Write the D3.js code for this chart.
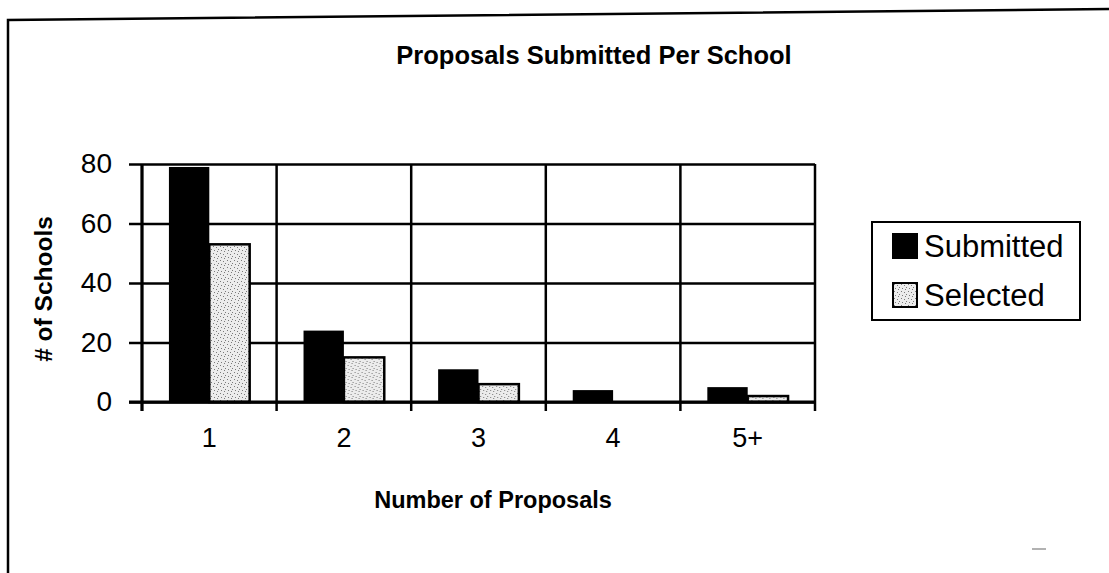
<!DOCTYPE html>
<html><head><meta charset="utf-8">
<script src="https://cdn.jsdelivr.net/npm/d3@7/dist/d3.min.js"></script>
<style>
html,body{margin:0;padding:0;background:#fff;}
svg{display:block;font-family:"Liberation Sans",Arial,sans-serif;}
</style></head>
<body><svg id="c" width="1109" height="573"></svg>
<script>
const categories = ["1","2","3","4","5+"];
const seriesNames = ["Submitted","Selected"];
const submitted = [79, 24, 11, 4, 5];
const selected = [53, 15, 6, 0, 2];
const yTicks = [0,20,40,60,80];
const title = "Proposals Submitted Per School";
const xTitle = "Number of Proposals";
const yTitle = "# of Schools";

const svg = d3.select("#c");
const defs = svg.append("defs");
const pat = defs.append("pattern").attr("id","stip").attr("patternUnits","userSpaceOnUse").attr("width",7).attr("height",7);
pat.append("rect").attr("width",7).attr("height",7).attr("fill","#ececec");
[[1,1],[4,2],[2,5],[6,4],[5,6]].forEach(p=>pat.append("rect").attr("x",p[0]).attr("y",p[1]).attr("width",1).attr("height",1).attr("fill","#7a7a7a"));

// outer frame
svg.append("path").attr("d","M8,573 L8,20 L1109,9").attr("fill","none").attr("stroke","#000").attr("stroke-width",2.5);
svg.append("line").attr("x1",1032).attr("x2",1046).attr("y1",549).attr("y2",549).attr("stroke","#999").attr("stroke-width",1.5);

const L=142, R=815, T=164, B=402;
const x0 = d3.scaleBand().domain(categories).range([L,R]).padding(0);
const x1 = d3.scaleBand().domain(seriesNames).range([0,x0.bandwidth()]).paddingInner(0).paddingOuter(0.667);
const y = d3.scaleLinear().domain([0,80]).range([B,T]);

// horizontal gridlines
svg.append("g").attr("transform",`translate(${L},0)`)
  .call(d3.axisLeft(y).tickValues(yTicks).tickSize(-(R-L)).tickFormat(""))
  .call(g=>g.select(".domain").remove())
  .call(g=>g.selectAll("line").attr("stroke","#000").attr("stroke-width",2.5));
// vertical gridlines at band boundaries
const bounds = categories.map(c=>x0(c)).concat([R]);
svg.append("g").selectAll("line").data(bounds).join("line")
  .attr("x1",d=>d).attr("x2",d=>d).attr("y1",T).attr("y2",B+9)
  .attr("stroke","#000").attr("stroke-width",2.5);

// bars
const data = categories.map((c,i)=>({c, vals:[{s:"Submitted",v:submitted[i]},{s:"Selected",v:selected[i]}]}));
const grp = svg.append("g").selectAll("g").data(data).join("g").attr("transform",d=>`translate(${x0(d.c)},0)`);
grp.selectAll("rect").data(d=>d.vals.filter(v=>v.v>0)).join("rect")
  .attr("x",d=>x1(d.s)).attr("width",x1.bandwidth())
  .attr("y",d=>y(d.v)).attr("height",d=>B-y(d.v))
  .attr("fill",d=>d.s==="Submitted"?"#000":"url(#stip)")
  .attr("stroke","#000").attr("stroke-width",d=>d.s==="Submitted"?0:2.5);

// y axis
svg.append("g").attr("transform",`translate(${L},0)`)
  .call(d3.axisLeft(y).tickValues(yTicks).tickSize(13).tickPadding(17))
  .call(g=>g.select(".domain").attr("stroke","#000").attr("stroke-width",3).attr("d",`M0,${T}V${B+9}`))
  .call(g=>g.selectAll(".tick line").attr("stroke","#000").attr("stroke-width",2.5))
  .call(g=>g.selectAll("text").attr("font-size",28).attr("fill","#000").attr("font-family","Liberation Sans, Arial, sans-serif"));

// x axis
svg.append("g").attr("transform",`translate(0,${B})`)
  .call(d3.axisBottom(x0).tickSize(0).tickPadding(26))
  .call(g=>g.select(".domain").attr("stroke","#000").attr("stroke-width",3).attr("d",`M${L-13},0H${R}`))
  .call(g=>g.selectAll("text").attr("font-size",27).attr("fill","#000").attr("font-family","Liberation Sans, Arial, sans-serif"));

// titles
svg.append("text").attr("x",594).attr("y",64).attr("text-anchor","middle").attr("font-weight","bold").attr("font-size",25.5).text(title);
svg.append("text").attr("x",493).attr("y",508).attr("text-anchor","middle").attr("font-weight","bold").attr("font-size",23.5).text(xTitle);
svg.append("text").attr("transform","translate(52,289) rotate(-90)").attr("text-anchor","middle").attr("font-weight","bold").attr("font-size",24.5).text(yTitle);

// legend
const lg = svg.append("g");
lg.append("rect").attr("x",872).attr("y",222).attr("width",208).attr("height",98).attr("fill","#fff").attr("stroke","#000").attr("stroke-width",2);
const items = lg.selectAll("g").data(seriesNames).join("g").attr("transform",(d,i)=>`translate(893,${234+i*49})`);
items.append("rect").attr("width",24).attr("height",24)
  .attr("fill",d=>d==="Submitted"?"#000":"url(#stip)").attr("stroke","#000").attr("stroke-width",2);
items.append("text").attr("x",31).attr("y",23).attr("font-size",31).attr("fill","#000").text(d=>d);
</script></body></html>
